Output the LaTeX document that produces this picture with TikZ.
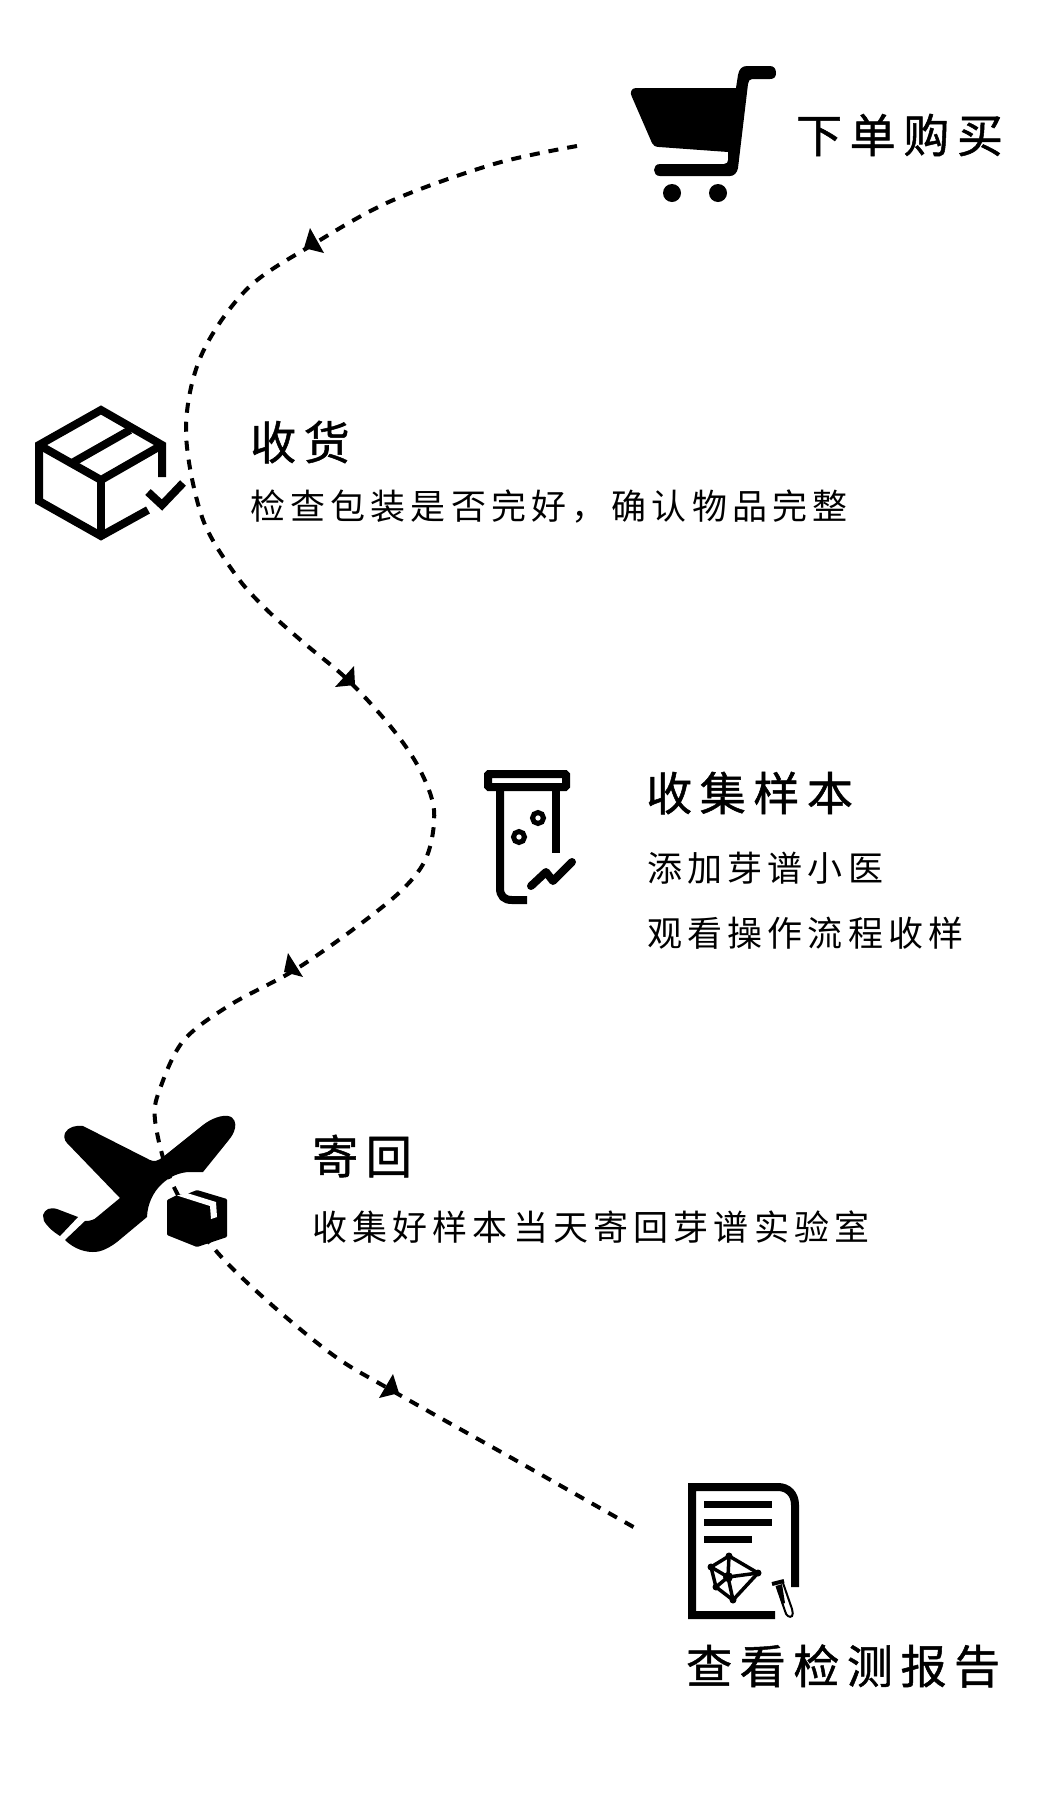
\documentclass[tikz,border=0pt]{standalone}
\usepackage{fontspec}
\newfontfamily\cjkbody[LetterSpace=14.8]{Noto Sans CJK SC}
\newfontfamily\cjkhead[LetterSpace=16.5,FakeBold=1.1]{Noto Sans CJK SC}
\tikzset{
  headtxt/.style={anchor=west,inner sep=0pt,font=\cjkhead\fontsize{46}{50}\selectfont},
  bodytxt/.style={anchor=west,inner sep=0pt,font=\cjkbody\fontsize{35}{40}\selectfont},
  route/.style={line width=4pt,dash pattern=on 10pt off 9pt},
  ink/.style={line width=8pt,black},
  tip/.style={fill=black,draw=none},
}
\begin{document}
\begin{tikzpicture}[x=1pt,y=-1pt,line join=miter]
\useasboundingbox (0,0) rectangle (1043,1802);
\fill[white] (0,0) rectangle (1043,1802);
% route points
\coordinate (start) at (577,146);
\coordinate (finish) at (637,1529);
\draw[route] plot[smooth,tension=0.55] coordinates {(start) (494,164) (391,201) (312,245) (247,289) (201,356) (186,431) (202,517) (235,574) (266,609) (304,643) (348,680) (391,727) (419,768) (434,810) (427,856) (402,890) (351,931) (293,971) (230,1005) (184,1040) (161,1086) (155,1120) (172,1183) (212,1246) (264,1298) (333,1355) (391,1390) (517,1461) (finish)};
\fill[tip] (310,228) -- (324,253) -- (304,248) -- cycle;
\fill[tip] (354,666) -- (355,685) -- (335,687) -- cycle;
\fill[tip] (288,953) -- (303,977) -- (284,972) -- cycle;
\fill[tip] (393,1374) -- (399,1393) -- (379,1398) -- cycle;
% cart
\fill (636,88) -- (736,88) -- (738,75) .. controls (739,69) and (742,66) .. (747,66) -- (770,66) .. controls (774,66) and (776,69) .. (776,73) .. controls (776,77) and (774,79) .. (770,79) -- (752,79) .. controls (750,79) and (748,81) .. (748,84) -- (738,168) .. controls (737,173) and (734,176) .. (730,176) -- (660,176) .. controls (656,176) and (654,173) .. (654,170) .. controls (654,167) and (656,164) .. (660,164) -- (724,164) .. controls (727,164) and (728,162) .. (728,160) -- (728,152) -- (659,147) .. controls (655,147) and (653,145) .. (652,143) -- (632,97) .. controls (629,92) and (632,88) .. (636,88) -- cycle;
\fill (672,193) circle (9);
\fill (718,193) circle (9);
\node[headtxt] (t1) at (796,135) {下单购买};
% box
\draw[ink] (162,477) -- (162,445) -- (101,410) -- (39,445) -- (39,501) -- (101,536) -- (148,510);
\draw[ink] (39,445) -- (101,480) -- (162,445);
\draw[ink] (101,480) -- (101,536);
\draw[ink] (72,463) -- (130,430);
\draw[ink] (148,492) -- (162,505) -- (183,483);
\node[headtxt] (t2) at (250,442) {收货};
\node[bodytxt] (t2b) at (250,507) {检查包装是否完好，确认物品完整};
% test tube
\draw[ink,rounded corners=1pt] (488,774) rectangle (566,787);
\draw[line width=8pt] (500,791) -- (500,888) .. controls (500,896) and (504,900) .. (512,900) -- (527,900);
\draw[line width=8pt] (556,791) -- (556,853);
\draw[line width=5pt] (538,818) circle (5.5);
\draw[line width=5pt] (519,837) circle (5.5);
\draw[ink,line cap=round,line join=round] (531,886) -- (546,872) -- (553,881) -- (572,862);
\node[headtxt] (t3) at (646,793) {收集样本};
\node[bodytxt] (t3b) at (647,868) {添加芽谱小医};
\node[bodytxt] (t3c) at (647,933) {观看操作流程收样};
% plane
\fill (65,1133) .. controls (68,1127) and (76,1125) .. (83,1126) -- (150,1160) .. controls (154,1162) and (158,1161) .. (163,1157) -- (203,1125) .. controls (212,1118) and (222,1115) .. (228,1116) .. controls (235,1117) and (236,1124) .. (235,1128) .. controls (234,1133) and (232,1136) .. (228,1141) -- (203,1172) -- (190,1172) .. controls (170,1172) and (148,1190) .. (147,1217) -- (117,1242) .. controls (105,1251) and (98,1252) .. (93,1252) .. controls (80,1252) and (70,1245) .. (65,1240) -- (85,1221) .. controls (90,1221) and (94,1220) .. (97,1217) -- (120,1198) -- (67,1143) .. controls (64,1140) and (64,1136) .. (65,1133) -- cycle;
\fill (43,1215) .. controls (45,1209) and (50,1207) .. (57,1209) -- (78,1217) -- (60,1236) .. controls (52,1231) and (47,1226) .. (44,1221) -- cycle;
% parcel
\fill[rounded corners=1pt] (167,1200) -- (177,1195) -- (187,1194) -- (197,1190) -- (227,1199) -- (227,1237) -- (197,1247) -- (167,1235) -- cycle;
\fill[white] (177,1195.5) -- (210,1206) -- (211,1219) -- (217,1217) -- (216,1202) -- (187,1193) -- cycle;
\node[headtxt] (t4) at (312,1156) {寄回};
\node[bodytxt] (t4b) at (312,1227) {收集好样本当天寄回芽谱实验室};
% report
\draw[ink] (795,1587) -- (795,1505) .. controls (795,1494) and (788,1487) .. (778,1487) -- (692,1487) -- (692,1615) -- (775,1615);
\draw[line width=7pt] (704,1504) -- (772,1504);
\draw[line width=7pt] (704,1522) -- (772,1522);
\draw[line width=7pt] (704,1539) -- (752,1539);
\coordinate (ma) at (711,1567);
\coordinate (mb) at (729,1556);
\coordinate (mc) at (758,1573);
\coordinate (md) at (733,1600);
\coordinate (me) at (716,1587);
\coordinate (mf) at (728,1577);
\draw[line width=3.5pt] (ma) -- (mb) -- (mc) -- (md) -- (me) -- cycle;
\draw[line width=3.5pt] (mb) -- (mf) -- (md) (ma) -- (mf) -- (mc) (me) -- (mf);
\foreach \p in {ma,mb,mc,md,me} \fill (\p) circle (3.5);
\fill (mf) circle (5);
\draw[line width=4pt] (772,1584) -- (784,1581);
\fill (776,1586) -- (782,1584) -- (785,1603) -- (782,1604) -- cycle;
\draw[line width=2pt] (776.5,1586) -- (785,1611) .. controls (786,1616) and (790,1618) .. (792,1616) .. controls (793,1615) and (793,1612) .. (792,1609) -- (783,1583);
\node[headtxt] (t5) at (686,1666) {查看检测报告};
\end{tikzpicture}
\end{document}
